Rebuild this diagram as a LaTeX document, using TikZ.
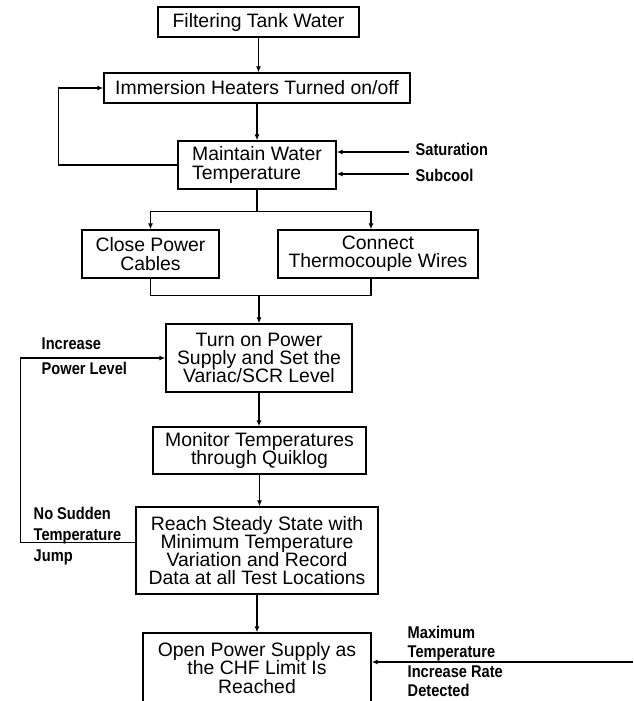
\documentclass[tikz,border=0pt]{standalone}
\usepackage{fontspec}
\setmainfont{Liberation Sans}
\newfontfamily\lblfont[FakeStretch=0.86]{Liberation Sans}
\usetikzlibrary{arrows.meta,calc}
\setlength{\lineskiplimit}{-10pt}

\begin{document}
\begin{tikzpicture}[x=1pt,y=-1pt,line width=1.4pt,
  stepbox/.style={draw,inner sep=0pt,align=center,
    font=\fontsize{19.4}{18.2}\selectfont},
  lbl/.style={inner sep=0pt,align=left,anchor=north west,
    font=\lblfont\bfseries\fontsize{17}{21}\selectfont},
  arr/.style={-{Latex[length=6pt,width=5pt]}}]

\useasboundingbox (0,0) rectangle (633,701);

% main chain
\node[stepbox,minimum width=201pt,minimum height=30pt] (filter) at (258.5,22) {Filtering Tank Water};
\node[stepbox,minimum width=306pt,minimum height=30pt] (heaters) at (257,88) {Immersion Heaters Turned on/off};
\node[stepbox,align=left,minimum width=158pt,minimum height=48pt] (maintain) at (257,165) {Maintain Water\\Temperature};
\node[stepbox,minimum width=137pt,minimum height=48pt] (cables) at (150.5,254) {Close Power\\Cables};
\node[stepbox,minimum width=200pt,minimum height=48pt] (wires) at (378,254) {Connect\\Thermocouple Wires};
\node[stepbox,minimum width=186pt,minimum height=68pt] (power) at (259,358) {Turn on Power\\Supply and Set the\\Variac/SCR Level};
\node[stepbox,minimum width=213pt,minimum height=47pt] (monitor) at (259.5,450.5) {Monitor Temperatures\\through Quiklog};
\node[stepbox,minimum width=242pt,minimum height=87pt] (steady) at (257,550.5) {Reach Steady State with\\Minimum Temperature\\Variation and Record\\Data at all Test Locations};
\node[stepbox,minimum width=228pt,minimum height=70pt] (open) at (257,668) {Open Power Supply as\\the CHF Limit Is\\Reached};

% side labels
\node[lbl] (sat) at (415,142) {Saturation};
\node[lbl] (sub) at (415,168) {Subcool};
\node[lbl] (incr) at (41,337) {Increase\\[4pt]Power Level};
\node[lbl] (jump) at (33,506) {No Sudden\\Temperature\\Jump};
\node[lbl,font=\lblfont\bfseries\fontsize{17}{19.5}\selectfont] (maxrate) at (407,625) {Maximum\\Temperature\\Increase Rate\\Detected};

\coordinate (satin) at (409,152);
\coordinate (subin) at (409,174);
\coordinate (maxin) at (633,662);
\coordinate (split) at ($(maintain.south)+(0,22)$);
\coordinate (merge) at ($(power.north)+(0,-28)$);

\draw[arr] (filter.south) -- (filter.south |- heaters.north);
\draw[arr] (heaters.south) -- (heaters.south |- maintain.north);
\draw (maintain.south) -- (split);
\draw[arr] (split) -| (cables.north);
\draw[arr] (split) -| ([xshift=-7pt]wires.north);
\draw (cables.south) |- (merge);
\draw ([xshift=-7pt]wires.south) |- (merge);
\draw[arr] (merge) -- (merge |- power.north);
\draw[arr] (power.south) -- (power.south |- monitor.north);
\draw[arr] (monitor.south) -- (monitor.south |- steady.north);
\draw[arr] (steady.south) -- (steady.south |- open.north);

% loops and inputs
\draw[arr] (maintain.west) -- ++(-119,0) |- (heaters.west);
\draw[arr] ([yshift=8pt]steady.west) -- ++(-115,0) |- (power.west);
\draw[arr] (satin) -- (satin -| maintain.east);
\draw[arr] (subin) -- (subin -| maintain.east);
\draw[arr] (maxin) -- (maxin -| open.east);

\end{tikzpicture}
\end{document}
